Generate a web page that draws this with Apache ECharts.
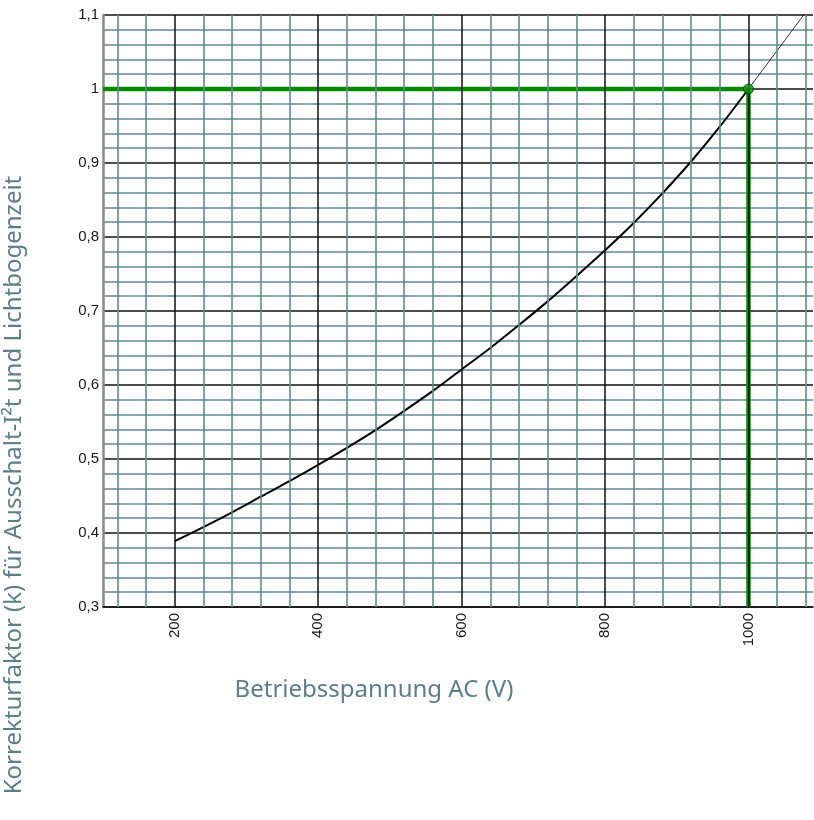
<!DOCTYPE html>
<html>
<head>
<meta charset="utf-8">
<script src="https://cdn.jsdelivr.net/npm/echarts@6/dist/echarts.min.js"></script>
<style>html,body{margin:0;padding:0;background:#fff;}#c{width:814px;height:820px;}</style>
</head>
<body>
<div id="c"></div>
<script>
// Data
const voltage = [200,240,280,320,360,400,440,480,520,560,600,640,680,720,760,800,840,880,920,960,1000];
const factor  = [0.389,0.408,0.428,0.449,0.470,0.492,0.515,0.539,0.565,0.592,0.621,0.650,0.681,0.713,0.747,0.782,0.819,0.859,0.902,0.949,1.0];
const extVoltage = [1000,1077];
const extFactor  = [1.0,1.1];
const refVoltage = 1000;
const refFactor = 1.0;
const xMin = 100, xMax = 1090;
const yMin = 0.3, yMax = 1.1;
const xMajorTicks = [200,400,600,800,1000];
const xMinorStep = 40;
const xTitle = 'Betriebsspannung AC (V)';
const yTitle = 'Korrekturfaktor (k) für Ausschalt-I²t und Lichtbogenzeit';

const minorColor = '#5e8b93';
const majorColor = '#111';
const green = '#058a05';
const titleFont = '24px "Noto Sans", sans-serif';
const tickFont = '"Liberation Sans"';

const xMinorTicks = [];
for (let v = xMajorTicks[0] - 2*xMinorStep; v < xMax; v += xMinorStep) {
  if (v > xMin && xMajorTicks.indexOf(v) < 0) xMinorTicks.push(v);
}

const chart = echarts.init(document.getElementById('c'), null, {renderer: 'canvas'});
const fmtY = v => String(Math.round(v*10)/10).replace('.', ',');

chart.setOption({
  animation: false,
  backgroundColor: '#fff',
  grid: {left: 103, right: 1, top: 15, bottom: 213, containLabel: false},
  xAxis: {
    type: 'value', min: xMin, max: xMax,
    axisLine: {show: true, onZero: false, lineStyle: {color: '#111', width: 1.5}},
    axisTick: {show: false},
    splitLine: {show: false},
    axisLabel: {
      customValues: xMajorTicks,
      formatter: v => String(v),
      rotate: 90, margin: 6,
      color: '#1a1a1a', fontSize: 15, fontFamily: tickFont
    }
  },
  yAxis: {
    type: 'value', min: yMin, max: yMax, interval: 0.1,
    axisLine: {show: true, onZero: false, lineStyle: {color: '#8a8a8a', width: 2.5}},
    axisTick: {show: false},
    minorTick: {show: false, splitNumber: 5},
    splitLine: {show: true, lineStyle: {color: majorColor, width: 1.5}},
    minorSplitLine: {show: true, lineStyle: {color: minorColor, width: 1.6}},
    axisLabel: {
      formatter: fmtY, margin: 4,
      color: '#1a1a1a', fontSize: 15, fontFamily: tickFont
    }
  },
  graphic: [
    {type: 'text', position: [374, 690],
     style: {text: xTitle, fill: '#5b7f8c', font: titleFont, textAlign: 'center', textVerticalAlign: 'middle'}},
    {type: 'text', rotation: Math.PI/2, position: [2, 485],
     style: {text: yTitle, fill: '#5b7f8c', font: titleFont, textAlign: 'center', textVerticalAlign: 'top'}}
  ],
  series: [
    {
      type: 'line', data: [], silent: true, z: 1,
      markLine: {
        silent: true, symbol: 'none', label: {show: false}, animation: false,
        lineStyle: {color: minorColor, width: 1.6, type: 'solid'},
        data: xMinorTicks.map(v => ({xAxis: v}))
      }
    },
    {
      type: 'line', data: [], silent: true, z: 2,
      markLine: {
        silent: true, symbol: 'none', label: {show: false}, animation: false,
        lineStyle: {color: majorColor, width: 1.5, type: 'solid'},
        data: xMajorTicks.map(v => ({xAxis: v}))
      }
    },
    {
      type: 'line', z: 3, silent: true, symbol: 'none',
      lineStyle: {color: green, width: 4.5},
      data: [[xMin, refFactor], [refVoltage, refFactor]]
    },
    {
      type: 'line', z: 3, silent: true, symbol: 'none',
      lineStyle: {color: green, width: 4.5},
      data: [[refVoltage, yMin], [refVoltage, refFactor]]
    },
    {
      type: 'line', z: 4, silent: true, symbol: 'none', smooth: 0.3,
      lineStyle: {color: '#000', width: 2},
      data: voltage.map((v, i) => [v, factor[i]])
    },
    {
      type: 'line', z: 4, silent: true, symbol: 'none',
      lineStyle: {color: '#000', width: 0.8},
      data: extVoltage.map((v, i) => [v, extFactor[i]])
    },
    {
      type: 'scatter', z: 5, silent: true, symbol: 'circle', symbolSize: 10,
      itemStyle: {color: '#129412', borderColor: '#0a3a0a', borderWidth: 1},
      data: [[refVoltage, refFactor]]
    }
  ]
});
</script>
</body>
</html>
